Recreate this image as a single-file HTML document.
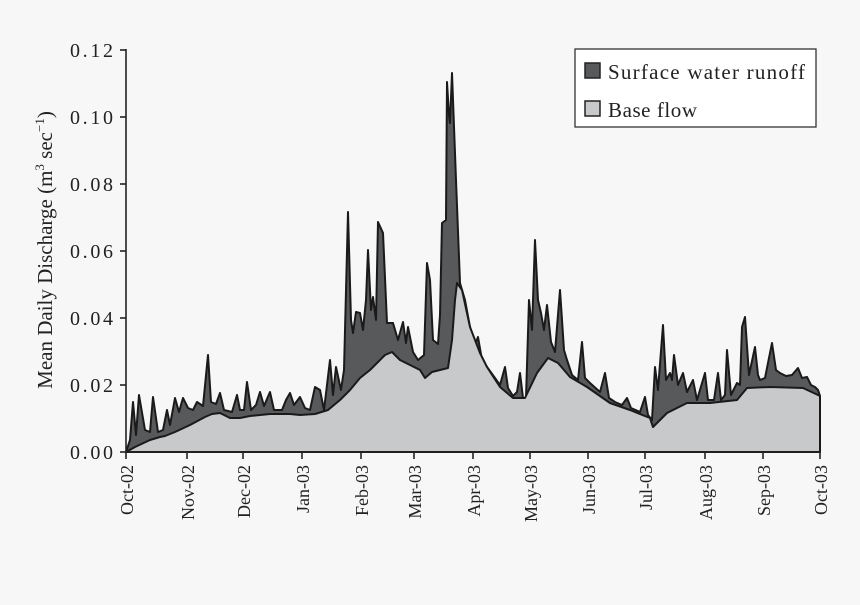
<!DOCTYPE html>
<html><head><style>
html,body{margin:0;padding:0;background:#f7f7f7;}
svg{display:block;font-family:"Liberation Serif",serif;}
</style></head><body>
<svg width="860" height="605" viewBox="0 0 860 605">
<rect width="860" height="605" fill="#f7f7f7"/>
<polygon fill="#58595b" stroke="#1a1a1a" stroke-width="2" stroke-linejoin="round" points="126,452 130,440 133,402 136,435 139,395 145,430 150,432 153,397 158,432 163,430 167,410 170,425 175,398 179,412 183,398 188,408 193,410 197,402 203,406 208,355 211,402 216,404 220,393 224,410 232,412 237,395 240,410 244,410 247,382 251,410 256,405 260,392 264,406 270,392 274,410 282,410 286,400 290,393 294,405 300,397 305,408 310,410 315,387 320,390 324,410 330,360 333,395 336,367 341,390 344,370 348,212 351,320 353,333 356,312 360,313 363,330 366,300 368,250 371,310 373,297 376,320 378,222 383,233 387,323 393,323 398,340 403,322 406,343 408,327 413,352 418,360 424,355 427,263 430,280 433,340 438,344 440,315 442,223 446,220 447,82 449,115 450,123 452,73 456,180 460,283 465,300 470,327 475,345 478,337 482,360 487,367 495,378 500,385 505,367 508,388 513,396 517,392 520,373 523,398 526,398 529,300 532,330 535,240 538,300 541,313 544,330 547,305 551,342 555,352 560,290 564,350 567,360 572,375 578,380 582,342 585,378 590,383 600,392 605,373 609,398 615,402 622,405 627,398 631,408 640,412 645,397 648,415 652,420 655,367 658,390 663,325 666,380 670,373 672,380 674,355 678,385 683,373 687,392 693,380 697,400 705,373 708,400 714,400 718,373 721,400 725,395 727,350 731,395 737,383 740,385 742,327 745,317 749,375 755,347 758,375 760,380 765,378 772,343 776,370 780,373 786,376 792,375 798,368 802,378 807,377 811,385 815,387 818,390 820,396 820,452"/>
<polygon fill="#c8c9cb" stroke="#1a1a1a" stroke-width="2" stroke-linejoin="round" points="126,452 135,447 150,440 160,437 165,436 175,432 190,425 205,417 212,414 220,413 230,418 240,418 250,416 270,414 290,414 300,415 315,414 328,410 340,400 350,390 360,378 370,370 380,360 385,355 392,352 400,360 410,365 420,370 425,378 432,372 440,370 448,368 452,340 455,300 457,283 462,290 470,327 480,353 487,367 500,387 513,398 525,398 537,373 548,358 558,363 570,377 587,387 610,403 630,410 650,418 653,427 667,413 687,403 710,403 737,400 747,388 770,387 803,388 818,395 820,396 820,452"/>
<g stroke="#222" stroke-width="1.6" fill="none">
<line x1="126" y1="49" x2="126" y2="453"/>
<line x1="125" y1="452" x2="821" y2="452"/>
<line x1="120" y1="50" x2="126" y2="50"/>
<line x1="120" y1="117" x2="126" y2="117"/>
<line x1="120" y1="184" x2="126" y2="184"/>
<line x1="120" y1="251" x2="126" y2="251"/>
<line x1="120" y1="318" x2="126" y2="318"/>
<line x1="120" y1="385" x2="126" y2="385"/>
<line x1="120" y1="452" x2="126" y2="452"/>
<line x1="126" y1="452" x2="126" y2="459"/>
<line x1="187" y1="452" x2="187" y2="459"/>
<line x1="243" y1="452" x2="243" y2="459"/>
<line x1="302" y1="452" x2="302" y2="459"/>
<line x1="361" y1="452" x2="361" y2="459"/>
<line x1="414" y1="452" x2="414" y2="459"/>
<line x1="473" y1="452" x2="473" y2="459"/>
<line x1="530" y1="452" x2="530" y2="459"/>
<line x1="588" y1="452" x2="588" y2="459"/>
<line x1="645" y1="452" x2="645" y2="459"/>
<line x1="705" y1="452" x2="705" y2="459"/>
<line x1="763" y1="452" x2="763" y2="459"/>
<line x1="820" y1="452" x2="820" y2="459"/>
</g>
<g font-size="20" fill="#222">
<text x="70" y="57" textLength="43">0.12</text>
<text x="70" y="124" textLength="43">0.10</text>
<text x="70" y="191" textLength="43">0.08</text>
<text x="70" y="258" textLength="43">0.06</text>
<text x="70" y="325" textLength="43">0.04</text>
<text x="70" y="392" textLength="43">0.02</text>
<text x="70" y="459" textLength="43">0.00</text>
</g>
<g font-size="18" fill="#222" text-anchor="end">
<text transform="translate(133,465) rotate(-90)">Oct-02</text>
<text transform="translate(194,465) rotate(-90)">Nov-02</text>
<text transform="translate(250,465) rotate(-90)">Dec-02</text>
<text transform="translate(309,465) rotate(-90)">Jan-03</text>
<text transform="translate(368,465) rotate(-90)">Feb-03</text>
<text transform="translate(421,465) rotate(-90)">Mar-03</text>
<text transform="translate(480,465) rotate(-90)">Apr-03</text>
<text transform="translate(537,465) rotate(-90)">May-03</text>
<text transform="translate(595,465) rotate(-90)">Jun-03</text>
<text transform="translate(652,465) rotate(-90)">Jul-03</text>
<text transform="translate(712,465) rotate(-90)">Aug-03</text>
<text transform="translate(770,465) rotate(-90)">Sep-03</text>
<text transform="translate(827,465) rotate(-90)">Oct-03</text>
</g>
<text transform="translate(52,250) rotate(-90)" font-size="21" fill="#222" text-anchor="middle">Mean Daily Discharge (m<tspan font-size="13" dy="-8">3</tspan><tspan dy="8"> sec</tspan><tspan font-size="13" dy="-8">−1</tspan><tspan dy="8">)</tspan></text>
<rect x="575" y="49" width="241" height="78" fill="#fff" stroke="#333" stroke-width="1.3"/>
<rect x="585" y="63" width="15" height="15" fill="#58595b" stroke="#222" stroke-width="1.5"/>
<rect x="585" y="101" width="15" height="15" fill="#c8c9cb" stroke="#222" stroke-width="1.5"/>
<text x="608" y="79" font-size="21" fill="#222" textLength="197">Surface water runoff</text>
<text x="608" y="117" font-size="21" fill="#222" textLength="89">Base flow</text>
</svg>
</body></html>
